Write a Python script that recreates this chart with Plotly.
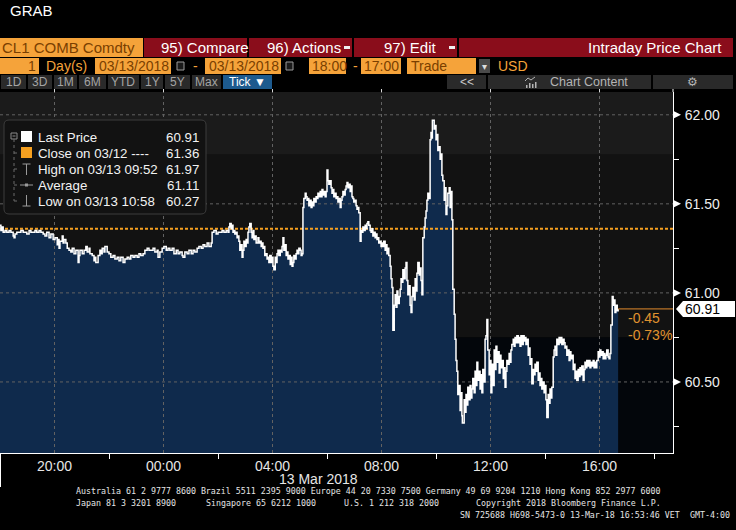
import pandas as pd
import plotly.graph_objects as go

# ---------------- DATA ----------------
SESSION_START = pd.Timestamp("2018-03-12 18:00")

# tick data: minutes after 18:00 on 12 Mar 2018, and trade price (USD)
overnight_minutes = [0, 2, 4, 7, 11, 15, 20, 24, 29, 31, 33, 37, 42, 46, 51, 55, 59, 64, 68, 73,
                     77, 81, 86, 90, 95, 99, 103, 108, 112, 117, 121, 126, 128, 130, 132, 137, 139, 141, 145, 148,
                     152, 156, 159, 163, 167, 172, 174, 176, 181, 185, 189, 192, 196, 198, 203, 207, 209, 211, 216, 220,
                     222, 225, 229, 231, 236, 240, 244, 249, 253, 258, 262, 266, 271, 275, 280, 284, 288, 293, 297, 302,
                     306, 310, 315, 319, 324, 328]
overnight_prices = [61.38, 61.35, 61.37, 61.34, 61.35, 61.34, 61.35, 61.34, 61.32, 61.31,
                    61.33, 61.34, 61.34, 61.35, 61.34, 61.34, 61.33, 61.35, 61.34, 61.34,
                    61.35, 61.34, 61.35, 61.34, 61.33, 61.32, 61.34, 61.31, 61.33, 61.30,
                    61.31, 61.27, 61.30, 61.25, 61.29, 61.32, 61.28, 61.30, 61.28, 61.25,
                    61.24, 61.23, 61.25, 61.22, 61.24, 61.17, 61.21, 61.24, 61.22, 61.24,
                    61.26, 61.23, 61.25, 61.22, 61.21, 61.18, 61.20, 61.17, 61.21, 61.24,
                    61.22, 61.25, 61.23, 61.26, 61.23, 61.22, 61.20, 61.21, 61.19, 61.20,
                    61.18, 61.20, 61.17, 61.19, 61.20, 61.19, 61.21, 61.20, 61.21, 61.20,
                    61.22, 61.21, 61.22, 61.24, 61.25, 61.24]

asia_minutes = [332, 337, 341, 346, 348, 352, 357, 361, 366, 370,
                374, 379, 383, 388, 392, 396, 401, 403, 407, 412,
                416, 421, 425, 429, 434, 438, 443, 447, 451, 456,
                460, 465, 467, 471, 476, 480, 484, 489, 493, 498,
                502, 504, 506, 509, 511, 513, 515, 517, 520, 522,
                524, 526, 528, 531, 533, 535, 537, 539, 542, 544,
                546, 548, 550, 553, 555, 557, 559, 561, 564, 568,
                570, 572, 575, 577, 579, 581, 583, 586, 588, 590,
                592, 594, 597, 599, 601, 603, 606, 608, 610, 612,
                614, 617, 619, 621, 623, 625, 628, 630, 632, 634,
                636, 639, 641, 643, 645, 647, 650, 652, 654, 656,
                658, 661, 663, 665]
asia_prices = [61.24, 61.25, 61.23, 61.24, 61.20, 61.23, 61.25, 61.26, 61.24, 61.25,
               61.24, 61.25, 61.22, 61.24, 61.22, 61.23, 61.21, 61.20, 61.23, 61.22,
               61.24, 61.22, 61.24, 61.23, 61.25, 61.26, 61.25, 61.27, 61.26, 61.28,
               61.26, 61.28, 61.34, 61.35, 61.33, 61.34, 61.34, 61.35, 61.34, 61.35,
               61.34, 61.37, 61.39, 61.36, 61.38, 61.34, 61.35, 61.33, 61.34, 61.31,
               61.32, 61.29, 61.24, 61.27, 61.20, 61.24, 61.29, 61.26, 61.30, 61.28,
               61.34, 61.37, 61.39, 61.34, 61.31, 61.35, 61.30, 61.32, 61.28, 61.31,
               61.28, 61.29, 61.26, 61.28, 61.25, 61.26, 61.21, 61.22, 61.19, 61.20,
               61.17, 61.21, 61.17, 61.20, 61.15, 61.13, 61.20, 61.17, 61.22, 61.24,
               61.21, 61.24, 61.23, 61.26, 61.31, 61.24, 61.27, 61.21, 61.23, 61.19,
               61.21, 61.16, 61.20, 61.15, 61.17, 61.21, 61.19, 61.22, 61.24, 61.22,
               61.25, 61.24, 61.21, 61.22]

morning_minutes = [667, 669, 672, 674, 676, 678, 680, 683, 685, 687,
                   689, 691, 694, 696, 698, 700, 702, 705, 707, 709,
                   711, 713, 716, 718, 720, 722, 724, 727, 729, 731,
                   733, 735, 738, 740, 742, 744, 746, 749, 751, 753,
                   755, 757, 760, 762, 764, 766, 768, 771, 773, 775,
                   777, 779, 782, 784, 786, 788, 790, 793, 795, 797,
                   799, 801, 804, 806, 808, 810, 812, 815, 817, 819,
                   821, 823, 826, 828, 830, 832, 834, 837, 839, 841,
                   843, 845, 848, 850, 852, 854, 856, 859, 861, 863,
                   865, 868, 870, 872, 874, 876, 879, 881, 883, 885,
                   887, 890, 892, 894, 896, 898, 901, 903, 905, 907,
                   909, 912, 914, 916, 918, 920, 923, 925, 927, 929,
                   931, 934, 936, 938, 940, 942, 945, 947, 949, 951,
                   952, 956, 958, 960, 962, 964, 967, 969, 971, 973,
                   975, 978, 980, 982, 984, 986, 989, 991, 993, 995,
                   997, 1000, 1002, 1004, 1006, 1008, 1011, 1013, 1015, 1017,
                   1018, 1022, 1024]
morning_prices = [61.48, 61.53, 61.56, 61.54, 61.52, 61.53, 61.49, 61.52, 61.48, 61.51,
                  61.49, 61.53, 61.51, 61.54, 61.53, 61.56, 61.54, 61.57, 61.54, 61.58,
                  61.55, 61.57, 61.54, 61.57, 61.69, 61.63, 61.61, 61.63, 61.59, 61.56,
                  61.58, 61.54, 61.56, 61.53, 61.54, 61.51, 61.53, 61.48, 61.52, 61.54,
                  61.57, 61.55, 61.58, 61.60, 61.62, 61.59, 61.61, 61.57, 61.60, 61.54,
                  61.53, 61.51, 61.52, 61.49, 61.47, 61.48, 61.45, 61.29, 61.35, 61.34,
                  61.37, 61.35, 61.38, 61.36, 61.39, 61.40, 61.38, 61.35, 61.34, 61.36,
                  61.32, 61.34, 61.31, 61.33, 61.30, 61.31, 61.28, 61.29, 61.26, 61.28,
                  61.26, 61.29, 61.24, 61.27, 61.22, 61.25, 61.21, 61.15, 61.08, 61.03,
                  60.79, 60.93, 60.99, 60.92, 61.01, 60.94, 60.98, 61.02, 61.08, 61.06,
                  61.13, 61.08, 61.14, 61.17, 61.07, 60.99, 61.04, 60.93, 60.89, 60.98,
                  61.03, 60.96, 61.08, 61.01, 61.11, 61.17, 61.10, 61.14, 61.07, 60.99,
                  61.31, 61.37, 61.42, 61.46, 61.52, 61.56, 61.53, 61.86, 61.90, 61.87,
                  61.97, 61.92, 61.94, 61.86, 61.89, 61.80, 61.82, 61.75, 61.78, 61.66,
                  61.63, 61.52, 61.59, 61.44, 61.49, 61.56, 61.59, 61.48, 61.57, 61.41,
                  61.02, 60.88, 60.74, 60.62, 60.56, 60.43, 60.48, 60.34, 60.44, 60.31,
                  60.27, 60.40, 60.33]

afternoon_minutes = [1026, 1028, 1030, 1033, 1035, 1037, 1039, 1041, 1044, 1046,
                     1048, 1050, 1052, 1055, 1057, 1059, 1061, 1063, 1066, 1068,
                     1070, 1072, 1074, 1077, 1079, 1081, 1083, 1085, 1088, 1090,
                     1092, 1094, 1096, 1099, 1101, 1103, 1105, 1108, 1110, 1112,
                     1114, 1116, 1119, 1121, 1123, 1125, 1127, 1130, 1132, 1134,
                     1136, 1138, 1141, 1143, 1145, 1147, 1149, 1152, 1154, 1156,
                     1158, 1160, 1163, 1165, 1167, 1169, 1171, 1174, 1176, 1178,
                     1180, 1182, 1185, 1187, 1189, 1191, 1193, 1196, 1198, 1200,
                     1202, 1204, 1207, 1209, 1211, 1213, 1215, 1218, 1220, 1222,
                     1224, 1226, 1229, 1231, 1233, 1235, 1237, 1240, 1242, 1244,
                     1246, 1248, 1251, 1253, 1255, 1257, 1259, 1262, 1264, 1266,
                     1268, 1270, 1273, 1275, 1277, 1279, 1281, 1284, 1286, 1288,
                     1290, 1292, 1295, 1297, 1299, 1301, 1303, 1306, 1308, 1310,
                     1312, 1314, 1317, 1319, 1321, 1323, 1325, 1328, 1330, 1332,
                     1334, 1336, 1339, 1341, 1343, 1345, 1348, 1350, 1352, 1354,
                     1356, 1359, 1361]
afternoon_prices = [60.43, 60.37, 60.47, 60.40, 60.48, 60.41, 60.46, 60.52, 60.44, 60.56,
                    60.48, 60.61, 60.51, 60.56, 60.46, 60.54, 60.44, 60.57, 60.50, 60.74,
                    60.76, 60.85, 60.68, 60.54, 60.62, 60.44, 60.60, 60.48, 60.68, 60.57,
                    60.70, 60.61, 60.67, 60.55, 60.65, 60.58, 60.62, 60.52, 60.58, 60.47,
                    60.56, 60.62, 60.60, 60.66, 60.61, 60.68, 60.71, 60.74, 60.70, 60.75,
                    60.72, 60.76, 60.72, 60.75, 60.70, 60.76, 60.71, 60.76, 60.73, 60.75,
                    60.71, 60.74, 60.65, 60.69, 60.60, 60.63, 60.49, 60.57, 60.54, 60.60,
                    60.56, 60.61, 60.51, 60.55, 60.48, 60.52, 60.46, 60.50, 60.44, 60.48,
                    60.40, 60.30, 60.43, 60.38, 60.46, 60.41, 60.47, 60.64, 60.68, 60.70,
                    60.65, 60.74, 60.71, 60.75, 60.72, 60.75, 60.71, 60.74, 60.72, 60.69,
                    60.70, 60.65, 60.68, 60.62, 60.67, 60.63, 60.65, 60.57, 60.60, 60.52,
                    60.56, 60.51, 60.57, 60.53, 60.58, 60.54, 60.59, 60.51, 60.57, 60.61,
                    60.58, 60.62, 60.59, 60.62, 60.58, 60.61, 60.59, 60.62, 60.58, 60.61,
                    60.58, 60.62, 60.67, 60.64, 60.68, 60.65, 60.67, 60.63, 60.66, 60.63,
                    60.65, 60.68, 60.64, 60.63, 60.66, 60.82, 60.98, 60.93, 60.96, 60.89,
                    60.93, 60.90, 60.91]

prev_close = 61.36
last_price = 60.91
high_price = 61.97
low_price = 60.27
avg_price = 61.11
net_change_text = "-0.45"
pct_change_text = "-0.73%"

legend_labels = ["Last Price", "Close on 03/12 ----", "High on 03/13 09:52", "Average", "Low on 03/13 10:58"]
legend_values = [last_price, prev_close, high_price, avg_price, low_price]

x_tick_times = ["2018-03-12 20:00", "2018-03-13 00:00", "2018-03-13 04:00",
                "2018-03-13 08:00", "2018-03-13 12:00", "2018-03-13 16:00"]
x_tick_labels = ["20:00", "00:00", "04:00", "08:00", "12:00", "16:00"]
x_minor_times = ["2018-03-12 22:00", "2018-03-13 02:00", "2018-03-13 06:00",
                 "2018-03-13 10:00", "2018-03-13 14:00", "2018-03-13 18:00"]
y_tick_vals = [60.5, 61.0, 61.5, 62.0]
y_tick_labels = ["60.50", "61.00", "61.50", "62.00"]
y_minor_vals = [60.25, 60.75, 61.25, 61.75]
date_label = "13 Mar 2018"

# ---------------- BUILD ----------------
for name, m, p in [("overnight", overnight_minutes, overnight_prices),
                   ("asia", asia_minutes, asia_prices),
                   ("morning", morning_minutes, morning_prices),
                   ("afternoon", afternoon_minutes, afternoon_prices)]:
    if len(m) != len(p):
        raise ValueError(f"{name}: {len(m)} minutes vs {len(p)} prices")

minutes = overnight_minutes + asia_minutes + morning_minutes + afternoon_minutes
prices = overnight_prices + asia_prices + morning_prices + afternoon_prices
times = [SESSION_START + pd.Timedelta(minutes=int(m)) for m in minutes]

X_START = SESSION_START
X_END = SESSION_START + pd.Timedelta(minutes=1481.8)
Y_MIN, Y_MAX = 60.101, 62.128

W, H = 736, 530
PL, PR, PT, PB = 0, 673, 92, 453
FONT = "Liberation Sans"
MONO = "DejaVu Sans Mono"
ORANGE = "#f5a33a"
DARK = "#7a3f00"
RED = "#8a0d1b"


def xp(px):
    return (px - PL) / (PR - PL)


def yp(py):
    return (PB - py) / (PB - PT)


def vy(v):
    return PB - (v - Y_MIN) / (Y_MAX - Y_MIN) * (PB - PT)


def tx(t):
    t = pd.Timestamp(t)
    return (t - X_START) / (X_END - X_START)


shapes = []
annotations = []


def rect(x0, y0, x1, y1, fill, line=None, layer="above"):
    shapes.append(dict(type="rect", xref="paper", yref="paper", x0=xp(x0), x1=xp(x1),
                       y0=yp(y1), y1=yp(y0), fillcolor=fill, layer=layer,
                       line=dict(width=1 if line else 0, color=line or fill)))


def seg(x0, y0, x1, y1, color, width=1, dash=None):
    shapes.append(dict(type="line", xref="paper", yref="paper", x0=xp(x0), x1=xp(x1),
                       y0=yp(y0), y1=yp(y1), layer="above",
                       line=dict(color=color, width=width, dash=dash)))


def poly(points, fill, line=None):
    d = "M " + " L ".join(f"{xp(a):.5f},{yp(b):.5f}" for a, b in points) + " Z"
    shapes.append(dict(type="path", xref="paper", yref="paper", path=d, fillcolor=fill,
                       layer="above", line=dict(width=1 if line else 0, color=line or fill)))


def text(x, y, s, size=14, color="white", anchor="left", family=FONT):
    annotations.append(dict(xref="paper", yref="paper", x=xp(x), y=yp(y), text=s,
                            showarrow=False, xanchor=anchor, yanchor="middle", borderpad=0,
                            font=dict(family=family, size=size, color=color)))


# background bands in the plot area
for y0, y1, col in [(61.775, Y_MAX, "#1b1b1b"), (60.75, 61.775, "#121212"), (Y_MIN, 60.75, "#03060b")]:
    shapes.append(dict(type="rect", xref="paper", yref="y", x0=0, x1=1, y0=y0, y1=y1,
                       fillcolor=col, line=dict(width=0), layer="below"))

fig = go.Figure()

# area fill under the tick line
fig.add_trace(go.Scatter(x=times, y=prices, mode="lines", line=dict(width=0, shape="hv"),
                         fill="tozeroy", fillcolor="#0f2a4c", hoverinfo="skip", showlegend=False))

# dashed grid drawn above the fill
gx, gy = [], []
for t in x_tick_times:
    gx += [pd.Timestamp(t), pd.Timestamp(t), None]
    gy += [Y_MIN, Y_MAX, None]
for v in y_tick_vals:
    gx += [X_START, X_END, None]
    gy += [v, v, None]
fig.add_trace(go.Scatter(x=gx, y=gy, mode="lines", line=dict(color="#626262", width=1, dash="3px,3px"),
                         hoverinfo="skip", showlegend=False, connectgaps=False))

# previous close
fig.add_trace(go.Scatter(x=[X_START, X_END], y=[prev_close, prev_close], mode="lines",
                         line=dict(color="#f5a020", width=2, dash="3px,2px"),
                         hoverinfo="skip", showlegend=False))

# price line
fig.add_trace(go.Scatter(x=times, y=prices, mode="lines", line=dict(color="white", width=1.5, shape="hv"),
                         name="Last Price", showlegend=False))

# last price extension
fig.add_trace(go.Scatter(x=[times[-1], X_END], y=[last_price, last_price], mode="lines",
                         line=dict(color="#e38b2c", width=1), hoverinfo="skip", showlegend=False))

# ---------------- HEADER ----------------
text(9, 11, "GRAB", 15, "white")

rect(0, 38, 143, 57, ORANGE)
text(1, 47.5, "CL1 COMB Comdty", 15, DARK)
for a, b in [(144, 247), (249, 352), (354, 457), (459, 733)]:
    rect(a, 38, b, 57, RED)
text(160, 47.5, "95) Compare", 15, "white")
text(266, 47.5, "96) Actions", 15, "white")
rect(344, 46, 350, 49, "#f0f0f0")
text(383, 47.5, "97) Edit", 15, "white")
rect(449, 46, 455, 49, "#f0f0f0")
text(723, 47.5, "Intraday Price Chart", 15, "white", anchor="right")

rect(0, 58, 39, 74, ORANGE)
text(37, 66, "1", 14, DARK, anchor="right")
text(45, 66, "Day(s)", 14, ORANGE)
rect(95, 58, 171, 74, ORANGE)
text(98, 66, "03/13/2018", 14, DARK)
rect(177, 62, 184, 70, "#1a1a1a", line="#9a9a9a")
text(192, 66, "-", 14, ORANGE)
rect(205, 58, 281, 74, ORANGE)
text(208, 66, "03/13/2018", 14, DARK)
rect(286, 62, 293, 70, "#1a1a1a", line="#9a9a9a")
rect(309, 58, 346, 74, ORANGE)
text(311, 66, "18:00", 14, DARK)
text(352, 66, "-", 14, ORANGE)
rect(361, 58, 401, 74, ORANGE)
text(363, 66, "17:00", 14, DARK)
rect(407, 58, 476, 74, ORANGE)
text(410, 66, "Trade", 14, DARK)
rect(479, 59, 490, 73, "#4a4a4a")
text(484.5, 66, "▾", 10, "#dddddd", anchor="center", family="DejaVu Sans")
text(497, 66, "USD", 14, ORANGE)

buttons = [(1, 26, "1D"), (28, 52, "3D"), (54, 77, "1M"), (79, 106, "6M"), (108, 139, "YTD"),
           (141, 163, "1Y"), (165, 190, "5Y"), (192, 221, "Max")]
for a, b, s in buttons:
    rect(a, 75, b, 89, "#2a2a2a")
    text((a + b) / 2, 82, s, 12, "#a4a4a4", anchor="center")
rect(223, 75, 272, 89, "#1d5a8e")
text(247.5, 82, "Tick ▼", 12, "white", anchor="center")
rect(447, 75, 486, 89, "#2a2a2a")
text(466.5, 82, "<<", 12, "#c8c8c8", anchor="center")
rect(488, 75, 651, 89, "#2a2a2a")
text(549, 82, "Chart Content", 12.5, "#b4b4b4")
seg(525, 81, 528, 78, "#b4b4b4")
seg(528, 78, 531, 80, "#b4b4b4")
seg(531, 80, 535, 77, "#b4b4b4")
for bx, bh in [(526, 3), (529, 5), (532, 4), (535, 6)]:
    rect(bx, 88 - bh, bx + 1.5, 88, "#b4b4b4")
rect(653, 75, 733, 89, "#2a2a2a")
text(693, 82, "⚙", 12, "#b4b4b4", anchor="center", family="DejaVu Sans")

# small top ticks and axis stub
for t in x_tick_times:
    seg(tx(t) * (PR - PL) + PL, PT - 3, tx(t) * (PR - PL) + PL, PT, "#d8d8d8")
seg(PR, PT - 3, PR, PT, "white")
seg(0.5, PB, 0.5, 487, "white")

# ---------------- LEGEND BOX ----------------
lx0, ly0, lx1, ly1, r = 4, 120, 206, 214, 5
path = (f"M {xp(lx0 + r)},{yp(ly0)} L {xp(lx1 - r)},{yp(ly0)} Q {xp(lx1)},{yp(ly0)} {xp(lx1)},{yp(ly0 + r)} "
        f"L {xp(lx1)},{yp(ly1 - r)} Q {xp(lx1)},{yp(ly1)} {xp(lx1 - r)},{yp(ly1)} "
        f"L {xp(lx0 + r)},{yp(ly1)} Q {xp(lx0)},{yp(ly1)} {xp(lx0)},{yp(ly1 - r)} "
        f"L {xp(lx0)},{yp(ly0 + r)} Q {xp(lx0)},{yp(ly0)} {xp(lx0 + r)},{yp(ly0)} Z")
shapes.append(dict(type="path", xref="paper", yref="paper", path=path, fillcolor="#121212",
                   layer="above", line=dict(color="#3c3c3c", width=1)))

row_y = [137, 153, 169, 185, 201]
# tree
rect(11, 133, 17, 139, "#121212", line="#8a8a8a")
seg(12.5, 136, 15.5, 136, "#8a8a8a")
seg(14, 139, 14, row_y[-1], "#6a6a6a", dash="dot")
for yy in row_y[1:]:
    seg(14, yy, 20, yy, "#6a6a6a", dash="dot")
# icons
rect(21, 131, 32, 142, "white")
rect(21, 147, 32, 158, "#f5a020")
seg(26.5, 164, 26.5, 175, "#9a9a9a")
seg(22.5, 164, 30.5, 164, "#9a9a9a")
seg(20, 185, 33, 185, "#9a9a9a")
rect(25, 183.5, 28, 186.5, "#9a9a9a")
seg(26.5, 195, 26.5, 206, "#9a9a9a")
seg(22.5, 206, 30.5, 206, "#9a9a9a")
for yy, lab, val in zip(row_y, legend_labels, legend_values):
    text(37, yy, lab, 13.3, "#f2f2f2")
    text(200, yy, f"{val:.2f}", 13.3, "#f2f2f2", anchor="right")

# ---------------- PRICE TAGS ----------------
for v in y_tick_vals:
    yy = vy(v)
    poly([(PR, yy - 4), (PR + 8, yy), (PR, yy + 4)], "white")
yl = vy(last_price)
poly([(676, yl), (683, yl - 8), (735, yl - 8), (735, yl + 8), (683, yl + 8)], "white")
text(684, yl, f"{last_price:.2f}", 14, "black")
text(627, yl + 9, net_change_text, 14, "#e0922f")
text(627, yl + 26, pct_change_text, 14, "#e0922f")

# ---------------- FOOTER ----------------
text(278, 479, date_label, 14, "#e6e6e6")
FC = "#e4e4e4"
text(75, 491, "Australia 61 2 9777 8600 Brazil 5511 2395 9000 Europe 44 20 7330 7500 Germany 49 69 9204 1210 Hong Kong 852 2977 6000", 8.3, FC, family=MONO)
text(75, 503, "Japan 81 3 3201 8900", 8.3, FC, family=MONO)
text(205, 503, "Singapore 65 6212 1000", 8.3, FC, family=MONO)
text(343, 503, "U.S. 1 212 318 2000", 8.3, FC, family=MONO)
text(475, 503, "Copyright 2018 Bloomberg Finance L.P.", 8.3, FC, family=MONO)
text(459, 515, "SN 725688 H698-5473-0 13-Mar-18 16:53:46 VET", 8.3, FC, family=MONO)
text(689, 515, "GMT-4:00", 8.3, FC, family=MONO)

fig.update_layout(
    width=W, height=H,
    margin=dict(l=PL, r=W - PR, t=PT, b=H - PB, pad=0, autoexpand=False),
    paper_bgcolor="black", plot_bgcolor="black",
    font=dict(family=FONT, color="white"),
    showlegend=False,
    shapes=shapes, annotations=annotations,
    xaxis=dict(type="date", range=[X_START, X_END], showgrid=False, zeroline=False,
               tickmode="array", tickvals=x_tick_times, ticktext=x_tick_labels,
               ticks="", tickfont=dict(family=FONT, size=14, color="#e6e6e6"),
               showline=True, linecolor="white", linewidth=1,
               minor=dict(tickmode="array", tickvals=x_minor_times, ticks="outside",
                          ticklen=5, tickcolor="white", tickwidth=1, showgrid=False),
               fixedrange=True),
    yaxis=dict(side="right", range=[Y_MIN, Y_MAX], showgrid=False, zeroline=False,
               tickmode="array", tickvals=y_tick_vals, ticktext=y_tick_labels,
               ticks="outside", ticklen=8, tickcolor="rgba(0,0,0,0)",
               tickfont=dict(family=FONT, size=14, color="#eeeeee"),
               showline=True, linecolor="white", linewidth=1,
               minor=dict(tickmode="array", tickvals=y_minor_vals, ticks="outside",
                          ticklen=5, tickcolor="white", tickwidth=1, showgrid=False),
               fixedrange=True),
)

fig.write_html("out.html", config={"displayModeBar": False},
               post_script="document.body.style.margin='0';document.body.style.background='black';")
